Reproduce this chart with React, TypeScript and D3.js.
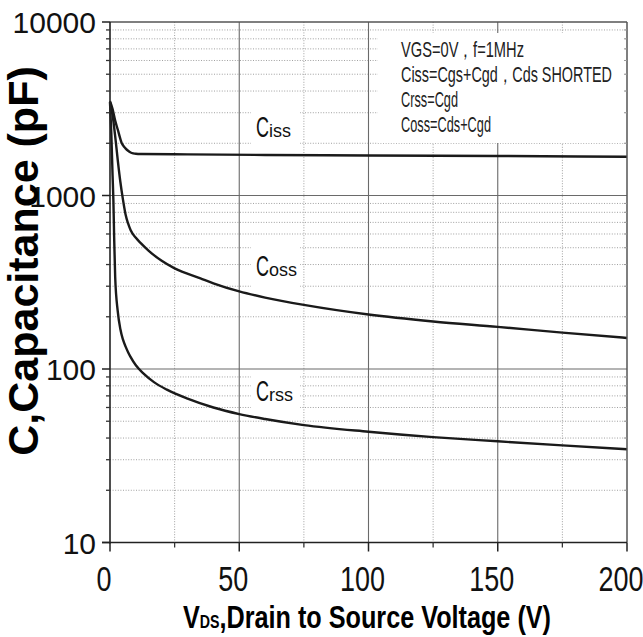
import React from "react";
import * as d3 from "d3";

// Drain-source voltage (V) and capacitance (pF) samples per curve
const cissV = [0, 1, 2, 3, 4, 4.5, 5, 6, 7, 8, 9, 10, 12, 30, 60, 100, 150, 200];
const cissC = [3500, 3150, 2700, 2400, 2120, 2010, 1950, 1870, 1810, 1770, 1750, 1740, 1735, 1725, 1712, 1700, 1690, 1672];

const cossV = [0, 1, 2, 3, 4, 5, 6, 7, 8, 10, 12, 15, 20, 25, 35, 40, 50, 60, 75, 100, 125, 150, 175, 200];
const cossC = [3450, 2900, 2200, 1600, 1200, 950, 780, 690, 630, 570, 530, 480, 420, 380, 333, 312, 280, 258, 234, 206, 188, 175, 162, 151];

const crssV = [0, 0.5, 1, 1.3, 1.6, 2, 3, 4, 5, 6, 7, 8, 10, 13, 17, 22, 30, 40, 50, 60, 75, 100, 125, 150, 175, 200];
const crssC = [3450, 2300, 1300, 950, 580, 340, 215, 170, 148, 135, 125, 117, 105, 94, 84, 76, 67.5, 60, 55, 51.5, 47.5, 43.5, 40.5, 38.3, 36.3, 34.5];

const xMajorTicks = [0, 50, 100, 150, 200];
const xMinorTicks = [25, 75, 125, 175];
const yDecades = [10, 100, 1000, 10000];
const yDecadeLabels = ["10", "100", "1000", "10000"];
const yMinorMultipliers = [2, 3, 4, 5, 6, 7, 8, 9];

const conditionLines = [
  "VGS=0V，f=1MHz",
  "Ciss=Cgs+Cgd，Cds SHORTED",
  "Crss=Cgd",
  "Coss=Cds+Cgd",
];
const conditionWidths = [123, 211, 57, 90];

const curveLabels = [
  { main: "C", sub: "iss" },
  { main: "C", sub: "oss" },
  { main: "C", sub: "rss" },
];

const W = 643;
const H = 637;
const left = 110;
const right = 627;
const top = 22;
const bottom = 542.5;

const FONT = "'Liberation Sans', Arial, Helvetica, sans-serif";

export default function App() {
  const x = d3.scaleLinear().domain([0, 200]).range([left, right]);
  const y = d3.scaleLog().domain([10, 10000]).range([bottom, top]);

  const yMinor: number[] = [];
  yDecades.slice(0, 3).forEach((d) => yMinorMultipliers.forEach((m) => yMinor.push(d * m)));

  const line = d3
    .line<[number, number]>()
    .x((d) => x(d[0]))
    .y((d) => y(d[1]))
    .curve(d3.curveMonotoneX);

  const series: [number[], number[]][] = [
    [cissV, cissC],
    [cossV, cossC],
    [crssV, crssC],
  ];

  const gridDot = { stroke: "#a0a0a0", strokeWidth: 1, strokeDasharray: "1 1.6" };

  const labelX = 256;
  const labelBaselines = [137, 276, 401];

  return (
    <div style={{ position: "absolute", left: 0, top: 0 }}>
      <svg width={W} height={H} style={{ display: "block", background: "#fff" }} fontFamily={FONT}>
        <rect x={0} y={0} width={W} height={H} fill="#fff" />

        {/* minor dotted grid */}
        {yMinor.map((v) => (
          <line key={"gy" + v} x1={left} x2={right} y1={y(v)} y2={y(v)} {...gridDot} />
        ))}
        {xMinorTicks.map((v) => (
          <line key={"gx" + v} x1={x(v)} x2={x(v)} y1={top} y2={bottom} {...gridDot} />
        ))}

        {/* major solid grid */}
        {[100, 1000].map((v) => (
          <line key={"My" + v} x1={left} x2={right} y1={y(v)} y2={y(v)} stroke="#6a6a6a" strokeWidth={1.1} />
        ))}
        {[50, 100, 150].map((v) => (
          <line key={"Mx" + v} x1={x(v)} x2={x(v)} y1={top} y2={bottom} stroke="#6a6a6a" strokeWidth={1.1} />
        ))}

        {/* conditions box */}
        <rect x={378} y={33} width={246} height={110} fill="#fff" />
        {conditionLines.map((t, i) => (
          <text
            key={t}
            x={401}
            y={57 + i * 25}
            fontSize={22}
            fill="#222"
            textLength={conditionWidths[i]}
            lengthAdjust="spacingAndGlyphs"
          >
            {t}
          </text>
        ))}

        {/* curve names */}
        {curveLabels.map((l, i) => (
          <g key={l.sub}>
            <rect x={labelX - 5} y={labelBaselines[i] - 29} width={49} height={40} fill="#fff" />
            <text
              x={labelX}
              y={labelBaselines[i]}
              fontSize={29}
              fill="#111"
              textLength={13}
              lengthAdjust="spacingAndGlyphs"
            >
              {l.main}
            </text>
            <text x={labelX + 13} y={labelBaselines[i]} fontSize={18} fill="#111">
              {l.sub}
            </text>
          </g>
        ))}

        {/* curves */}
        {series.map(([vs, cs], i) => (
          <path
            key={"s" + i}
            d={line(vs.map((v, j) => [v, cs[j]] as [number, number])) || ""}
            fill="none"
            stroke="#1a1a1a"
            strokeWidth={2.4}
            strokeLinejoin="round"
          />
        ))}

        {/* frame */}
        <line x1={left} x2={right} y1={top} y2={top} stroke="#555" strokeWidth={1.5} />
        <line x1={right} x2={right} y1={top} y2={bottom} stroke="#555" strokeWidth={1.5} />
        {yMinor.map((v) => (
          <line key={"rt" + v} x1={right - 3} x2={right} y1={y(v)} y2={y(v)} stroke="#999" strokeWidth={1} />
        ))}

        {/* left axis */}
        <line x1={left} x2={left} y1={top} y2={bottom + 1} stroke="#222" strokeWidth={1.6} />
        {yDecades.map((v, i) => (
          <g key={"yd" + v}>
            <line x1={left - 8} x2={left} y1={y(v)} y2={y(v)} stroke="#222" strokeWidth={1.5} />
            <text x={96} y={y(v) + 11} fontSize={30} textAnchor="end" fill="#111">
              {yDecadeLabels[i]}
            </text>
          </g>
        ))}
        {yMinor.map((v) => (
          <line key={"ym" + v} x1={left - 4} x2={left} y1={y(v)} y2={y(v)} stroke="#333" strokeWidth={1.3} />
        ))}

        {/* bottom axis */}
        <line x1={left - 8} x2={right} y1={bottom} y2={bottom} stroke="#222" strokeWidth={1.6} />
        {xMajorTicks.map((v) => {
          const s = String(v);
          return (
            <g key={"xt" + v}>
              <line x1={x(v)} x2={x(v)} y1={bottom} y2={bottom + 9} stroke="#222" strokeWidth={1.5} />
              <text
                x={x(v) - 6}
                y={591}
                fontSize={35}
                textAnchor="middle"
                fill="#111"
                textLength={s.length * 15}
                lengthAdjust="spacingAndGlyphs"
              >
                {s}
              </text>
            </g>
          );
        })}
        {xMinorTicks.map((v) => (
          <line key={"xm" + v} x1={x(v)} x2={x(v)} y1={bottom} y2={bottom + 5} stroke="#333" strokeWidth={1.3} />
        ))}

        {/* axis titles */}
        <text
          x={183}
          y={628}
          fontWeight="bold"
          fill="#000"
          fontSize={32}
          textLength={368}
          lengthAdjust="spacingAndGlyphs"
        >
          <tspan>V</tspan>
          <tspan fontSize={18}>DS</tspan>
          <tspan>,Drain to Source Voltage (V)</tspan>
        </text>
        <text
          transform="translate(38,261) rotate(-90)"
          textAnchor="middle"
          fontWeight="bold"
          fontSize={43}
          fill="#000"
        >
          C,Capacitance (pF)
        </text>
      </svg>
    </div>
  );
}
